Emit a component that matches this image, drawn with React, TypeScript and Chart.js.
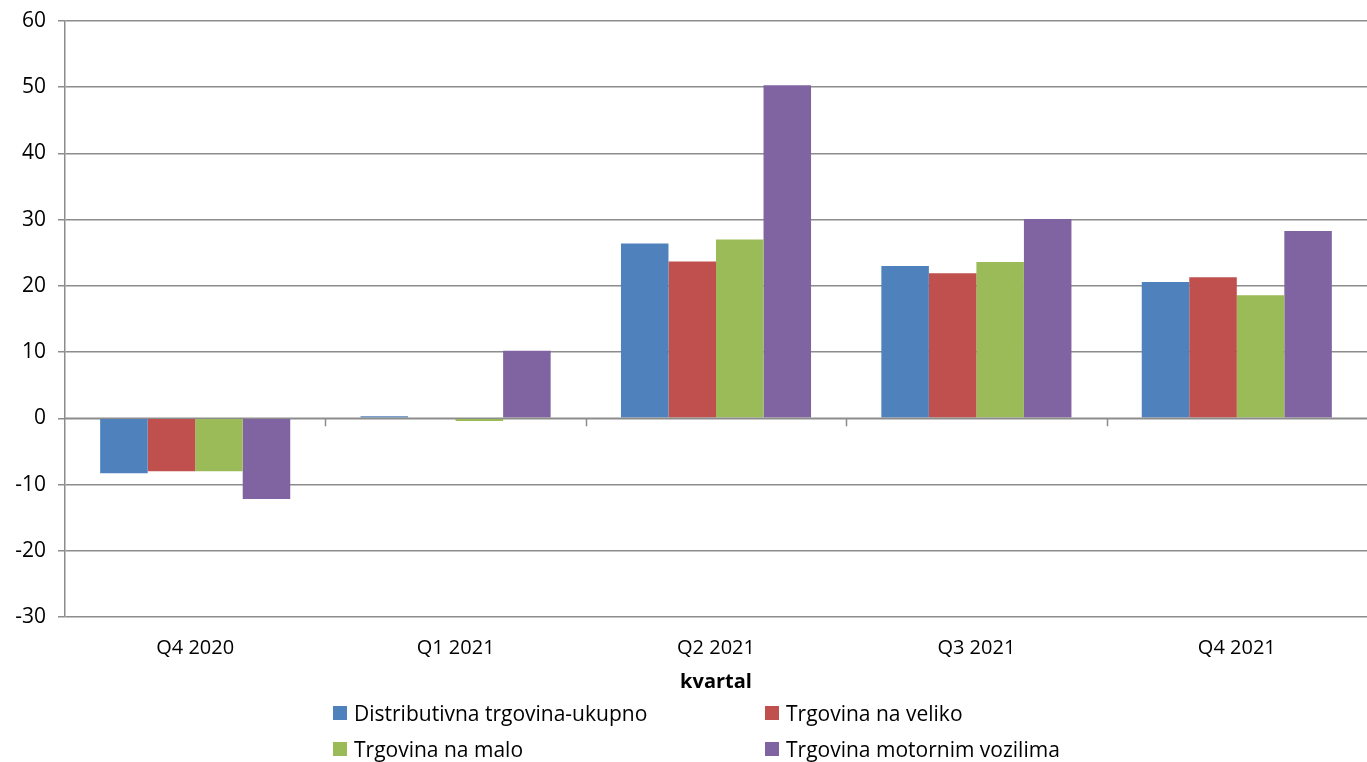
import React, { useEffect, useRef } from "react";
import { Chart, registerables } from "chart.js";

Chart.register(...registerables);

const categories = ["Q4 2020", "Q1 2021", "Q2 2021", "Q3 2021", "Q4 2021"];
const seriesNames = [
  "Distributivna trgovina-ukupno",
  "Trgovina na veliko",
  "Trgovina na malo",
  "Trgovina motornim vozilima",
];
const ukupno = [-8.3, 0.3, 26.4, 23.0, 20.6];
const veliko = [-8.0, 0.0, 23.7, 21.9, 21.3];
const malo = [-8.0, -0.4, 27.0, 23.6, 18.6];
const vozila = [-12.2, 10.2, 50.3, 30.1, 28.3];
const colors = ["#4F81BD", "#C0504D", "#9BBB59", "#8064A2"];
const yMin = -30;
const yMax = 60;
const yStep = 10;
const xTitle = "kvartal";

const FONT = "'Open Sans', 'Noto Sans', sans-serif";
const GRID = "#8c8c8c";

const zeroTicks = {
  id: "zeroTicks",
  afterDatasetsDraw(chart: any) {
    const { ctx, scales } = chart;
    const x = scales.x;
    const y = scales.y;
    const y0 = y.getPixelForValue(0);
    const n = x.ticks.length;
    const w = (x.right - x.left) / n;
    ctx.save();
    ctx.strokeStyle = GRID;
    ctx.lineWidth = 1.5;
    ctx.beginPath();
    ctx.moveTo(x.left, y0);
    ctx.lineTo(x.right, y0);
    for (let i = 1; i < n; i++) {
      const px = Math.round(x.left + w * i) + 0.5;
      ctx.moveTo(px, y0);
      ctx.lineTo(px, y0 + 8);
    }
    ctx.stroke();
    ctx.restore();
  },
};

export default function App() {
  const ref = useRef<HTMLCanvasElement>(null);
  useEffect(() => {
    document.body.style.margin = "0";
    const data = [ukupno, veliko, malo, vozila];
    const chart = new Chart(ref.current!, {
      type: "bar",
      data: {
        labels: categories,
        datasets: seriesNames.map((name, i) => ({
          label: name,
          data: data[i],
          backgroundColor: colors[i],
          borderWidth: 0,
          barPercentage: 1,
          categoryPercentage: 0.73,
        })),
      },
      options: {
        responsive: false,
        animation: false,
        devicePixelRatio: 1,
        layout: { padding: { top: 21, right: 0, bottom: 0, left: 0 } },
        plugins: { legend: { display: false }, tooltip: { enabled: false } },
        scales: {
          x: {
            grid: { display: false },
            border: { display: false },
            ticks: { color: "#000", font: { family: FONT, size: 20 }, padding: 11 },
            title: {
              display: true,
              text: xTitle,
              color: "#000",
              font: { family: FONT, size: 20, weight: "bold" },
              padding: { top: 0, bottom: 68 },
            },
            afterFit: (s: any) => {
              s.height = 145;
              s.paddingLeft = 0;
              s.paddingRight = 0;
            },
          },
          y: {
            min: yMin,
            max: yMax,
            ticks: { stepSize: yStep, color: "#000", font: { family: FONT, size: 21 }, padding: 12 },
            grid: { color: GRID, lineWidth: 1.5, tickLength: 7, tickColor: GRID },
            border: { color: GRID, width: 1.5 },
            afterFit: (s: any) => {
              s.width = 65;
              s.paddingTop = 0;
              s.paddingBottom = 0;
            },
          },
        },
      },
      plugins: [zeroTicks],
    });
    return () => chart.destroy();
  }, []);

  const legendItem = (i: number, left: number, top: number) => (
    <div
      key={i}
      style={{
        position: "absolute",
        left,
        top,
        display: "flex",
        alignItems: "center",
        fontFamily: FONT,
        fontSize: 21,
        lineHeight: "28px",
        color: "#000",
        whiteSpace: "nowrap",
      }}
    >
      <span style={{ display: "inline-block", width: 14, height: 14, background: colors[i], marginRight: 7 }} />
      {seriesNames[i]}
    </div>
  );

  return (
    <div style={{ position: "relative", width: 1367, height: 762 }}>
      <canvas ref={ref} width={1367} height={762} style={{ display: "block" }} />
      {legendItem(0, 333, 699)}
      {legendItem(1, 765, 699)}
      {legendItem(2, 333, 735)}
      {legendItem(3, 765, 735)}
    </div>
  );
}
